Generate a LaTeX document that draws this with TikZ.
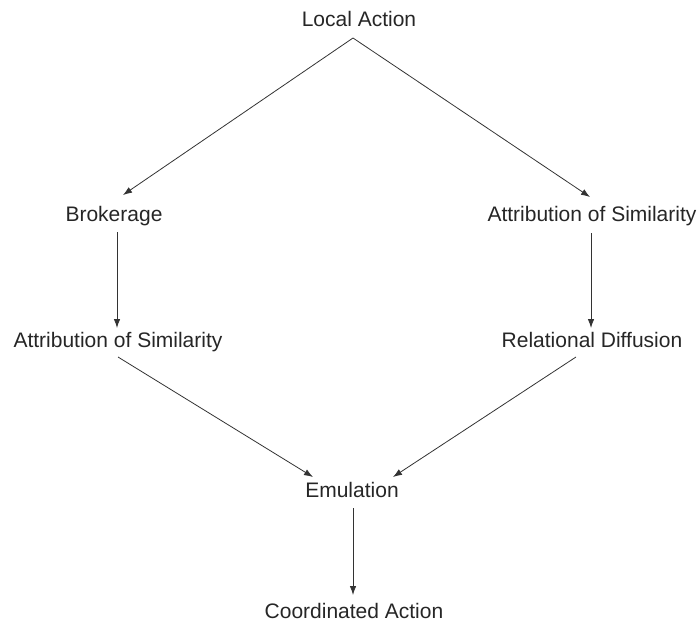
\documentclass[tikz,border=0pt]{standalone}
\usepackage{fontspec}
\setmainfont{Liberation Sans}
\usetikzlibrary{arrows.meta}
\begin{document}
\begin{tikzpicture}[x=1pt,y=-1pt,
  lbl/.style={inner sep=0pt,anchor=base,font=\fontsize{21}{25}\selectfont,text=black!85},
  arr/.style={draw=black!80,line width=0.8pt,-{Latex[length=9pt,width=6.5pt]}}]
\useasboundingbox (0,0) rectangle (699,623);
\node[lbl] (la) at (359,27) {Local Action};
\node[lbl] (bro) at (114,222) {Brokerage};
\node[lbl] (as2) at (592,222) {Attribution of Similarity};
\node[lbl] (as1) at (118,347) {Attribution of Similarity};
\node[lbl] (rd) at (592,347) {Relational Diffusion};
\node[lbl] (em) at (352,497) {Emulation};
\node[lbl] (ca) at (354,618) {Coordinated Action};
% connector ends
\coordinate (laout) at (353,38);
\coordinate (broin) at (123,195);
\coordinate (as2in) at (590,197);
\coordinate (broout) at (117,232);
\coordinate (as1in) at (117,328);
\coordinate (as2out) at (591,233);
\coordinate (rdin) at (591,328);
\coordinate (as1out) at (118,357);
\coordinate (emin1) at (313,477);
\coordinate (rdout) at (576,357);
\coordinate (emin2) at (393,477);
\coordinate (emout) at (353,508);
\coordinate (cain) at (353,595);
\draw[arr] (laout) -- (broin);
\draw[arr] (laout) -- (as2in);
\draw[arr] (broout) -- (as1in);
\draw[arr] (as2out) -- (rdin);
\draw[arr] (as1out) -- (emin1);
\draw[arr] (rdout) -- (emin2);
\draw[arr] (emout) -- (cain);
\end{tikzpicture}
\end{document}
